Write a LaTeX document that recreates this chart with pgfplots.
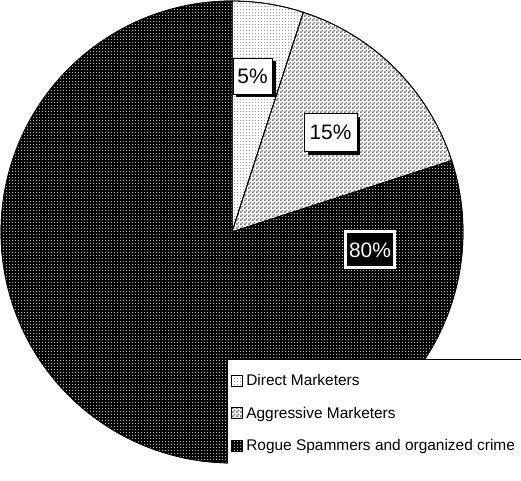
\documentclass[border=0pt]{standalone}
\usepackage{pgfplots}
\pgfplotsset{compat=1.18}
\usepackage{fontspec}
\setmainfont{Liberation Sans}
\usetikzlibrary{patterns,shadows}
\pgfdeclarepatternformonly{finedots}{\pgfpointorigin}{\pgfqpoint{3bp}{3bp}}{\pgfqpoint{3bp}{3bp}}{%
  \pgfpathrectangle{\pgfpointorigin}{\pgfqpoint{1.2bp}{1.2bp}}\pgfusepath{fill}}
\pgfdeclarepatternformonly{finechecker}{\pgfpointorigin}{\pgfqpoint{4bp}{4bp}}{\pgfqpoint{4bp}{4bp}}{%
  \pgfpathrectangle{\pgfpointorigin}{\pgfqpoint{2bp}{2bp}}%
  \pgfpathrectangle{\pgfqpoint{2bp}{2bp}}{\pgfqpoint{2bp}{2bp}}\pgfusepath{fill}}
% data: shares in percent
\def\pa{5}\def\pb{15}\def\pc{80}
\pgfmathsetmacro{\aA}{90}
\pgfmathsetmacro{\aB}{90-3.6*\pa}
\pgfmathsetmacro{\aC}{\aB-3.6*\pb}
\pgfmathsetmacro{\aD}{\aC-3.6*\pc}
\def\cx{232}\def\cy{249}\def\rr{231}
\begin{document}
\begin{tikzpicture}
\useasboundingbox (0,0) rectangle (521bp,481bp);
\begin{scope}
\clip (0,0) rectangle (521bp,481bp);
\begin{axis}[
  width=521bp, height=481bp, scale only axis,
  xmin=0, xmax=521, ymin=0, ymax=481,
  hide axis, clip=false,
  legend image code/.code={\draw[#1, line width=0.6bp] (0bp,-5.5bp) rectangle (11bp,5.5bp);},
  legend cell align=left,
  legend style={at={(axis cs:229,112)}, anchor=north west, draw=none, fill=none,
    font=\fontsize{15.5}{18}\selectfont, row sep=16.5bp, inner xsep=2bp, inner ysep=4bp,
    nodes={inner sep=1.5bp}, column sep=2bp},
]
\addplot[draw=black, line width=0.8bp, fill=white,
  postaction={pattern=finedots, pattern color=gray!75},
  domain=\aB:\aA, samples=30, variable=\t]
  ({\cx+\rr*cos(t)}, {\cy+\rr*sin(t)}) -- (axis cs:\cx,\cy) -- cycle;
\addlegendentry{Direct Marketers}
\addplot[draw=black, line width=0.8bp, fill=white,
  postaction={pattern=finechecker, pattern color=black!55},
  domain=\aC:\aB, samples=40, variable=\t]
  ({\cx+\rr*cos(t)}, {\cy+\rr*sin(t)}) -- (axis cs:\cx,\cy) -- cycle;
\addlegendentry{Aggressive Marketers}
\addplot[draw=black, line width=0.8bp, fill=black,
  postaction={pattern=finedots, pattern color=gray!55},
  domain=\aD:\aC, samples=150, variable=\t]
  ({\cx+\rr*cos(t)}, {\cy+\rr*sin(t)}) -- (axis cs:\cx,\cy) -- cycle;
\addlegendentry{Rogue Spammers and organized crime}
% legend area
\fill[white] (axis cs:228,-5) rectangle (axis cs:526,122);
\draw[black, line width=0.8bp] (axis cs:228,122) -- (axis cs:526,122);
% data labels
\node[draw=black, fill=white, line width=0.6bp, minimum height=36bp, inner xsep=4.5bp,
  font=\fontsize{21}{25}\selectfont,
  drop shadow={shadow xshift=3.5bp, shadow yshift=-3.5bp, fill=black, opacity=1}]
  at (axis cs:252.5,405) {5\%};
\node[draw=black, fill=white, line width=0.6bp, minimum height=38bp, inner xsep=5.5bp,
  font=\fontsize{21}{25}\selectfont,
  drop shadow={shadow xshift=3.5bp, shadow yshift=-3.5bp, fill=black, opacity=1}]
  at (axis cs:330.5,348.5) {15\%};
\node[draw=white, fill=black, text=white, line width=3bp, minimum height=36bp, inner xsep=4bp,
  font=\fontsize{21}{25}\selectfont]
  at (axis cs:370,231) {80\%};
\end{axis}
\end{scope}
\end{tikzpicture}
\end{document}
